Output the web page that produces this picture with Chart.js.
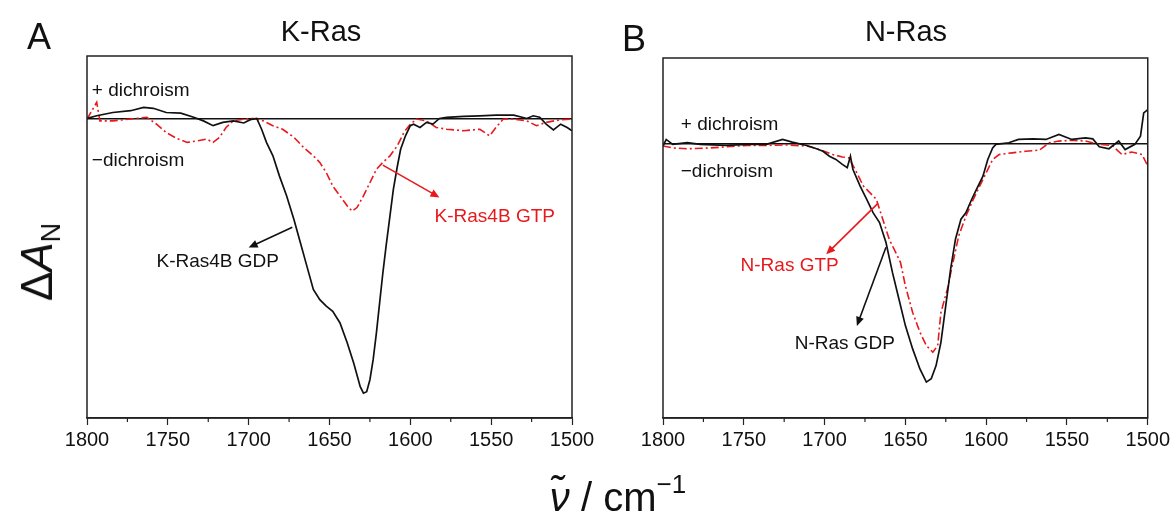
<!DOCTYPE html>
<html>
<head>
<meta charset="utf-8">
<script src="https://cdn.jsdelivr.net/npm/chart.js@4.4.1/dist/chart.umd.min.js"></script>
<style>
  body { margin: 0; background: #fff; }
  #page { position: relative; width: 1173px; height: 520px; overflow: hidden; font-family: "Liberation Sans", Arial, sans-serif; color: #111; }
  .box { position: absolute; top: 0; height: 470px; }
  #boxA { left: 0; width: 600px; }
  #boxB { left: 600px; width: 573px; }
  .txt { position: absolute; line-height: 1; white-space: nowrap; }
</style>
</head>
<body>
<div id="page">
  <div class="box" id="boxA"><canvas id="graphA"></canvas></div>
  <div class="box" id="boxB"><canvas id="graphB"></canvas></div>

  <div class="txt" style="left:27px;top:19px;font-size:36px">A</div>
  <div class="txt" style="left:622px;top:21px;font-size:36px">B</div>
  <div class="txt" style="left:321px;top:17px;font-size:29px;transform:translateX(-50%)">K-Ras</div>
  <div class="txt" style="left:906px;top:17px;font-size:29px;transform:translateX(-50%)">N-Ras</div>

  <!-- y軸タイトル -->
  <div class="txt" style="left:40px;top:262px;font-size:44px;transform:translate(-50%,-50%) rotate(-90deg)">Δ<i>A</i><sub style="font-size:27px;vertical-align:-8px">N</sub></div>
  <!-- x軸タイトル -->
  <div class="txt" style="left:618px;top:494px;font-size:40px;transform:translate(-50%,-50%)"><i>ν̃</i> / cm<sup style="font-size:26px;vertical-align:18px">−1</sup></div>
</div>

<script>
// K-Ras (A)
const kGdpX = [1800, 1794, 1784, 1773, 1765, 1759, 1751, 1742, 1734, 1728, 1722, 1716, 1709.5, 1703, 1699, 1695, 1692, 1689, 1685, 1681,
  1676.5, 1672, 1668, 1664, 1660, 1656, 1652, 1648, 1643.5, 1639, 1635, 1631, 1629, 1627, 1625, 1623, 1621, 1619, 1617, 1615,
  1612.6, 1610.5, 1608, 1606, 1603, 1600, 1598, 1594, 1590, 1586, 1582, 1577.5, 1567, 1557, 1547, 1536, 1528, 1524, 1520, 1516,
  1511.5, 1507, 1503, 1500];
const kGdpY = [0.002, 0.011, 0.022, 0.028, 0.039, 0.036, 0.022, 0.020, 0.006, -0.006, -0.022, -0.011, -0.006, -0.013, -0.002, 0.002, -0.034, -0.078, -0.123, -0.190,
  -0.257, -0.336, -0.414, -0.492, -0.570, -0.604, -0.626, -0.643, -0.682, -0.749, -0.817, -0.895, -0.917, -0.912, -0.872, -0.805, -0.716, -0.615, -0.515, -0.425,
  -0.324, -0.235, -0.157, -0.101, -0.056, -0.022, -0.017, -0.028, -0.011, -0.017, 0.002, 0.006, 0.009, 0.011, 0.013, 0.013, 0.002, 0.011, 0.006, -0.017,
  -0.036, -0.017, -0.028, -0.039];
const kGtpX = [1800, 1794, 1792, 1784, 1773, 1763, 1757, 1751, 1744.5, 1738, 1732, 1726, 1722, 1718, 1714, 1709.5, 1703, 1697, 1691, 1685,
  1679, 1672, 1666, 1660, 1656, 1652, 1648, 1643.5, 1639, 1636, 1633, 1629, 1625, 1621, 1617, 1612.6, 1608, 1604, 1600, 1596,
  1590, 1584, 1577.5, 1567, 1557, 1551, 1547, 1542.5, 1536, 1528, 1522, 1516, 1507, 1500];
const kGtpY = [0, 0.056, -0.006, -0.006, 0, 0.006, -0.017, -0.045, -0.065, -0.078, -0.073, -0.067, -0.078, -0.061, -0.028, -0.006, 0, 0.002, -0.006, -0.022,
  -0.034, -0.061, -0.095, -0.123, -0.145, -0.179, -0.224, -0.257, -0.291, -0.308, -0.296, -0.257, -0.213, -0.168, -0.145, -0.123, -0.089, -0.045, -0.017, 0,
  -0.006, -0.028, -0.034, -0.039, -0.034, -0.056, -0.028, 0, 0, -0.006, -0.022, -0.011, -0.002, 0];

// N-Ras (B)
const nGdpX = [1800, 1798, 1794, 1785, 1777, 1761, 1748, 1736, 1726, 1720, 1711, 1705, 1701, 1697, 1693, 1689, 1686, 1684, 1682.5, 1678,
  1674, 1670, 1666, 1662, 1658, 1654, 1650, 1645.5, 1641, 1637, 1634, 1631, 1628, 1625, 1622, 1619, 1615.6, 1612.5, 1609, 1606,
  1602, 1599, 1596, 1594, 1586, 1580, 1571, 1563, 1555, 1547, 1538.5, 1534, 1530, 1524, 1518, 1514, 1508, 1504.5, 1502.5, 1500];
const nGdpY = [-0.008, 0.016, -0.002, 0.004, -0.002, -0.006, -0.002, -0.002, 0.016, 0.006, -0.006, -0.018, -0.027, -0.045, -0.057, -0.075, -0.087, -0.045, -0.093, -0.154,
  -0.202, -0.251, -0.287, -0.360, -0.469, -0.566, -0.663, -0.748, -0.821, -0.869, -0.857, -0.809, -0.724, -0.590, -0.457, -0.348, -0.275, -0.251, -0.203, -0.166,
  -0.118, -0.057, -0.015, -0.002, 0.004, 0.016, 0.018, 0.016, 0.034, 0.016, 0.022, 0.018, -0.011, -0.018, 0.010, -0.021, -0.002, 0.028, 0.113, 0.125];
const nGtpX = [1800, 1794, 1785, 1771, 1761, 1748, 1736, 1724, 1711, 1703, 1695, 1689, 1685, 1680, 1676, 1672, 1668, 1664, 1660, 1656,
  1653, 1650, 1645.5, 1641, 1637, 1633, 1630, 1628, 1624, 1621, 1617, 1612.5, 1608, 1604, 1600, 1596, 1592, 1584, 1575.5, 1567,
  1561, 1555, 1547, 1538.5, 1530, 1522, 1516, 1510, 1503.5, 1500];
const nGtpY = [-0.008, -0.015, -0.018, -0.015, -0.011, -0.006, -0.006, -0.004, -0.008, -0.021, -0.039, -0.048, -0.051, -0.106, -0.154, -0.178, -0.202, -0.275, -0.348, -0.396,
  -0.433, -0.518, -0.615, -0.687, -0.736, -0.760, -0.736, -0.615, -0.530, -0.445, -0.336, -0.263, -0.203, -0.154, -0.106, -0.057, -0.039, -0.033, -0.027, -0.023,
  0.004, 0.010, 0.013, 0.010, -0.002, -0.006, -0.039, -0.030, -0.039, -0.081];

const xTicks = [1800, 1750, 1700, 1650, 1600, 1550, 1500];
const xMinor = [1775, 1725, 1675, 1625, 1575, 1525];

// 注記（データ座標）
const notesA = [
  { text: "+ dichroism", x: 1797, y: 0.094, color: "#111" },
  { text: "\u2212dichroism", x: 1797, y: -0.141, color: "#111" },
  { text: "K-Ras4B GTP", x: 1585, y: -0.326, color: "#e8191c" },
  { text: "K-Ras4B GDP", x: 1757, y: -0.477, color: "#111" },
];
const arrowsA = [
  { x1: 1617, y1: -0.154, x2: 1582, y2: -0.262, color: "#e8191c" },
  { x1: 1673, y1: -0.362, x2: 1700, y2: -0.430, color: "#111" },
];
const notesB = [
  { text: "+ dichroism", x: 1789, y: 0.070, color: "#111" },
  { text: "\u2212dichroism", x: 1789, y: -0.101, color: "#111" },
  { text: "N-Ras GTP", x: 1752, y: -0.446, color: "#e8191c" },
  { text: "N-Ras GDP", x: 1718.5, y: -0.730, color: "#111" },
];
const arrowsB = [
  { x1: 1667, y1: -0.217, x2: 1699, y2: -0.403, color: "#e8191c" },
  { x1: 1662, y1: -0.377, x2: 1680, y2: -0.664, color: "#111" },
];

const pts = (xs, ys) => xs.map((x, i) => ({ x: x, y: ys[i] }));

// 枠・副目盛・注記を描くプラグイン
const framePlugin = {
  id: "frame",
  afterDatasetsDraw(chart, args, opts) {
    const { ctx, chartArea: a, scales } = chart;
    const xs = scales.x, ys = scales.y;
    ctx.save();
    // minor ticks
    ctx.strokeStyle = "#222";
    ctx.lineWidth = 1.2;
    xMinor.forEach((v) => {
      const px = xs.getPixelForValue(v);
      ctx.beginPath();
      ctx.moveTo(px, a.bottom);
      ctx.lineTo(px, a.bottom + 4);
      ctx.stroke();
    });
    // arrows
    opts.arrows.forEach((ar) => {
      const x1 = xs.getPixelForValue(ar.x1), y1 = ys.getPixelForValue(ar.y1);
      const x2 = xs.getPixelForValue(ar.x2), y2 = ys.getPixelForValue(ar.y2);
      const ang = Math.atan2(y2 - y1, x2 - x1);
      ctx.strokeStyle = ar.color;
      ctx.fillStyle = ar.color;
      ctx.lineWidth = 1.6;
      ctx.beginPath();
      ctx.moveTo(x1, y1);
      ctx.lineTo(x2 - 6 * Math.cos(ang), y2 - 6 * Math.sin(ang));
      ctx.stroke();
      ctx.beginPath();
      ctx.moveTo(x2, y2);
      ctx.lineTo(x2 - 9 * Math.cos(ang) + 4 * Math.sin(ang), y2 - 9 * Math.sin(ang) - 4 * Math.cos(ang));
      ctx.lineTo(x2 - 9 * Math.cos(ang) - 4 * Math.sin(ang), y2 - 9 * Math.sin(ang) + 4 * Math.cos(ang));
      ctx.closePath();
      ctx.fill();
    });
    // labels
    ctx.font = '19px "Liberation Sans", Arial, sans-serif';
    ctx.textAlign = "left";
    ctx.textBaseline = "middle";
    opts.notes.forEach((n) => {
      ctx.fillStyle = n.color;
      ctx.fillText(n.text, xs.getPixelForValue(n.x), ys.getPixelForValue(n.y));
    });
    // box
    ctx.strokeStyle = "#222";
    ctx.lineWidth = 1.5;
    ctx.strokeRect(a.left, a.top, a.right - a.left, a.bottom - a.top);
    ctx.restore();
  },
};

function makeChart(id, gdp, gtp, yMax, notes, arrows, pad) {
  return new Chart(document.getElementById(id), {
    type: "line",
    data: {
      datasets: [
        {
          label: "GDP",
          data: gdp,
          borderColor: "#111",
          borderWidth: 1.7,
          pointRadius: 0,
          tension: 0,
        },
        {
          label: "GTP",
          data: gtp,
          borderColor: "#e8191c",
          borderWidth: 1.6,
          borderDash: [8, 3, 2, 3],
          pointRadius: 0,
          tension: 0,
        },
      ],
    },
    options: {
      responsive: true,
      maintainAspectRatio: false,
      animation: false,
      layout: { padding: pad },
      scales: {
        x: {
          type: "linear",
          reverse: true,
          min: 1500,
          max: 1800,
          afterBuildTicks: (s) => { s.ticks = xTicks.map((v) => ({ value: v })); },
          ticks: {
            color: "#111",
            padding: 3,
            maxRotation: 0,
            callback: (v) => String(v),
            font: { family: "'Liberation Sans', Arial, sans-serif", size: 20 },
          },
          grid: { drawOnChartArea: false, tickLength: 7, tickColor: "#222", tickWidth: 1.2 },
          border: { color: "#222", width: 1.5 },
        },
        y: {
          min: -1,
          max: yMax,
          afterBuildTicks: (s) => { s.ticks = [{ value: 0 }]; },
          ticks: { display: false },
          grid: { drawTicks: false, color: "#111", lineWidth: 1.6 },
          border: { display: false },
        },
      },
      plugins: {
        legend: { display: false },
        tooltip: { enabled: false },
        frame: { notes: notes, arrows: arrows },
      },
    },
    plugins: [framePlugin],
  });
}

let chartA = makeChart("graphA", pts(kGdpX, kGdpY), pts(kGtpX, kGtpY), 0.211, notesA, arrowsA,
  { left: 87, right: 28, top: 56, bottom: 15 });
let chartB = makeChart("graphB", pts(nGdpX, nGdpY), pts(nGtpX, nGtpY), 0.313, notesB, arrowsB,
  { left: 63, right: 24, top: 58, bottom: 15 });
</script>
</body>
</html>
